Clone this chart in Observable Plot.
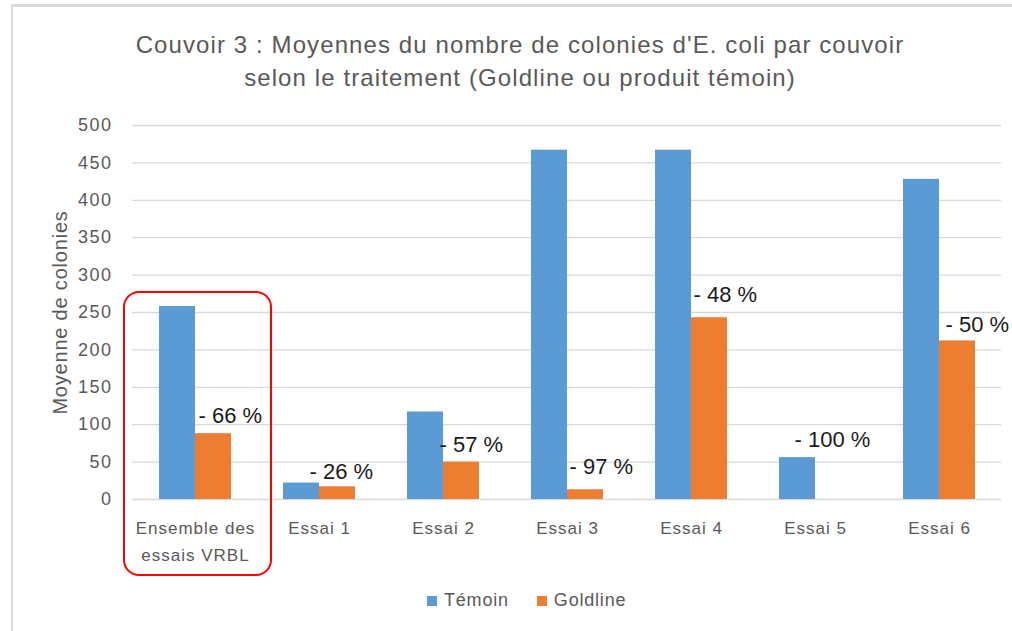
<!DOCTYPE html>
<html>
<head>
<meta charset="utf-8">
<script src="https://cdn.jsdelivr.net/npm/d3@7"></script>
<script src="https://cdn.jsdelivr.net/npm/@observablehq/plot@0.6"></script>
<style>
  html, body { margin: 0; padding: 0; background: #fff; }
  #page { position: relative; width: 1012px; height: 631px; overflow: hidden; background: #fff;
          font-family: "Liberation Sans", Arial, sans-serif; }
  #topbar { position: absolute; left: 11px; top: 4px; width: 1001px; height: 3px; background: #d9d9d9; }
  #leftbar { position: absolute; left: 11px; top: 4px; width: 2px; height: 627px; background: #dcdcdc; }
  #title { position: absolute; left: 20px; top: 28px; width: 1000px; text-align: center;
           font-size: 24px; letter-spacing: 1.1px; line-height: 33px; color: #595959; }
  #chart { position: absolute; left: 0; top: 100px; }
  #box { position: absolute; left: 123px; top: 291px; width: 145px; height: 281px;
         border: 2px solid #ff0000; border-radius: 16px; }
  #legend { position: absolute; left: 427px; top: 590px; display: flex; align-items: center;
            font-size: 18px; letter-spacing: 0.8px; color: #595959; }
  .item { display: flex; align-items: center; margin-right: 28px; }
  .sw { width: 10px; height: 10px; margin-right: 7px; }
  .cc g[aria-label="x-axis tick label"] text { letter-spacing: 1px; }
  .cc g[aria-label="y-axis tick label"] text { letter-spacing: 1.5px; }
  .cc g[aria-label="y-axis label"] text { letter-spacing: 0.8px; }
</style>
</head>
<body>
<div id="page">
  <div id="topbar"></div>
  <div id="leftbar"></div>
  <div id="title">Couvoir 3 : Moyennes du nombre de colonies d'E. coli par couvoir<br>selon le traitement (Goldline ou produit témoin)</div>
  <div id="chart"></div>
  <div id="box"></div>
  <div id="legend"></div>
</div>
<script>
// ---- data ----
const categories = ["Ensemble des\nessais VRBL", "Essai 1", "Essai 2", "Essai 3", "Essai 4", "Essai 5", "Essai 6"];
const temoin   = [258, 22, 117, 467, 467, 56, 428];
const goldline = [88, 17, 50, 13, 243, 0, 212];
const reductions = ["- 66 %", "- 26 %", "- 57 %", "- 97 %", "- 48 %", "- 100 %", "- 50 %"];
const labelY   = [112, 37, 73, 44, 273, 79, 234];
const yTicks = [0, 50, 100, 150, 200, 250, 300, 350, 400, 450, 500];
const seriesNames = ["Témoin", "Goldline"];

// ---- layout / style ----
const colors = ["#5B9BD5", "#ED7D31"];
const labelNudge = [3, -10, -4, 2, 2, -21, 6];

const rowsT = categories.map((c, i) => ({category: c, value: temoin[i]}));
const rowsG = categories.map((c, i) => ({category: c, value: goldline[i]}));
const rowsL = categories.map((c, i) => ({category: c, y: labelY[i], text: reductions[i], nudge: labelNudge[i]}));

const chart = Plot.plot({
  width: 1012,
  height: 480,
  marginTop: 25,
  marginBottom: 81,
  marginLeft: 132,
  marginRight: 11,
  className: "cc",
  style: {fontFamily: '"Liberation Sans", Arial, sans-serif', color: "#595959", background: "transparent"},
  x: {domain: categories, paddingInner: 0.42, paddingOuter: 0.21, axis: null},
  y: {domain: [0, 500], axis: null},
  marks: [
    Plot.ruleY(yTicks, {stroke: "#d9d9d9", strokeWidth: 1.3}),
    Plot.axisY({ticks: yTicks, tickSize: 0, tickPadding: 20, fontSize: 18, label: null, tickFormat: d => String(d)}),
    Plot.axisY({ticks: [], label: "Moyenne de colonies", labelAnchor: "center", labelArrow: "none", labelOffset: 80, fontSize: 20}),
    Plot.axisX({tickSize: 0, tickPadding: 15, fontSize: 17, lineHeight: 1.6, label: null}),
    Plot.barY(rowsT, {x: "category", y: "value", fill: colors[0], insetLeft: 0, insetRight: 36}),
    Plot.barY(rowsG, {x: "category", y: "value", fill: colors[1], insetLeft: 36, insetRight: 0}),
    ...rowsL.map(d => Plot.text([d], {x: "category", y: "y", text: "text", textAnchor: "start", dx: d.nudge, fontSize: 22, fill: "#1a1a1a", lineAnchor: "middle"}))
  ]
});
document.getElementById("chart").appendChild(chart);

const legend = document.getElementById("legend");
seriesNames.forEach((name, i) => {
  const item = document.createElement("div");
  item.className = "item";
  const sw = document.createElement("div");
  sw.className = "sw";
  sw.style.background = colors[i];
  const tx = document.createElement("span");
  tx.textContent = name;
  item.appendChild(sw);
  item.appendChild(tx);
  legend.appendChild(item);
});
</script>
</body>
</html>
